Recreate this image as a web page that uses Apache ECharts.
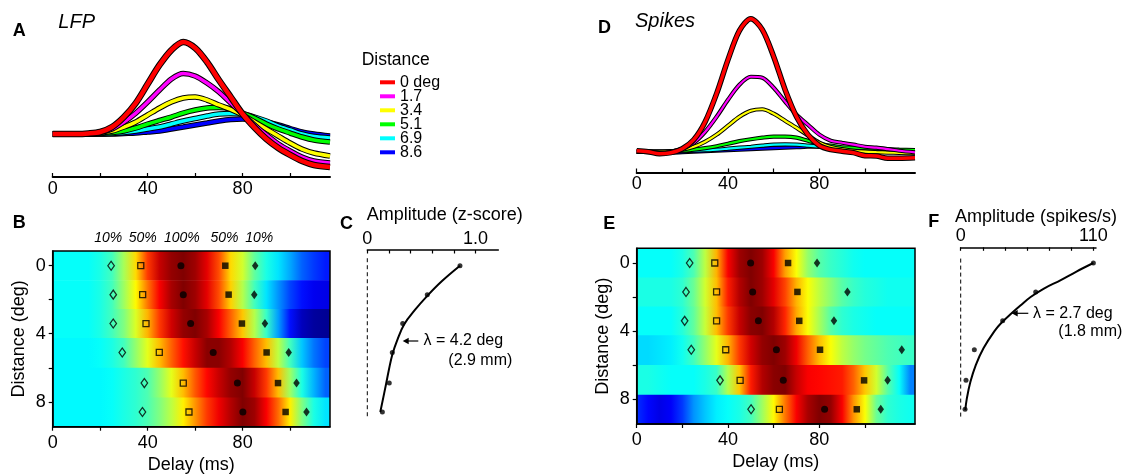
<!DOCTYPE html>
<html><head><meta charset="utf-8">
<script src="https://cdn.jsdelivr.net/npm/echarts@6/dist/echarts.min.js"></script>
<style>html,body{margin:0;padding:0;background:#fff}#c{width:1126px;height:475px}</style>
</head><body><div id="c"></div><script>
const FONT = '"Liberation Sans", Arial, sans-serif';

// ---------- shared ----------
const distances = [0, 1.7, 3.4, 5.1, 6.9, 8.6];
const distLabels = ['0 deg', '1.7', '3.4', '5.1', '6.9', '8.6'];
const curveColors = ['#ff0000', '#ff00ff', '#ffff00', '#00ff00', '#00ffff', '#0000ff'];

// ---------- A: LFP (z-score above baseline) ----------
const tLfp = [0,5,10,15,20,25,30,35,40,45,50,55,60,65,70,75,80,85,90,95,100,105,110,116.8];
const lfp00 = [0,0,0,0.005,0.019,0.065,0.158,0.288,0.465,0.642,0.781,0.856,0.800,0.670,0.502,0.344,0.186,0.060,-0.047,-0.130,-0.195,-0.251,-0.288,-0.307];
const lfp17 = [0,0,0,0,0.014,0.047,0.112,0.195,0.298,0.409,0.512,0.563,0.539,0.474,0.391,0.288,0.186,0.084,-0.009,-0.093,-0.158,-0.214,-0.251,-0.270];
const lfp34 = [0,0,0,0,0.009,0.028,0.065,0.112,0.177,0.242,0.298,0.335,0.344,0.316,0.270,0.228,0.177,0.112,0.047,-0.019,-0.084,-0.140,-0.177,-0.205];
const lfp51 = [0,0,0,0,0.005,0.014,0.028,0.056,0.093,0.126,0.158,0.195,0.223,0.242,0.246,0.233,0.195,0.149,0.093,0.047,0.009,-0.028,-0.056,-0.074];
const lfp69 = [0,0,0,0,0,0.005,0.014,0.028,0.047,0.065,0.093,0.121,0.144,0.167,0.186,0.191,0.186,0.158,0.121,0.074,0.037,0,-0.023,-0.037];
const lfp86 = [0,0,0,0,0,0,0.005,0.009,0.019,0.028,0.047,0.065,0.084,0.102,0.121,0.135,0.140,0.130,0.112,0.084,0.051,0.019,0,-0.019];

// ---------- D: Spikes (spikes/s above baseline) ----------
const tSpk = [0,5,10,15,20,25,30,35,40,45,50,55,60,65,70,75,80,85,90,95,100,105,110,115,121.9];
const spk00 = [0.8,0,-1.7,-0.8,2.5,9.9,24.8,48.0,76.1,100.1,110.0,100.9,78.6,51.3,28.9,14.1,5.0,1.7,0.4,-0.8,-3.3,-3.6,-5.4,-5.4,-5.0];
const spk17 = [0,0,-0.8,0,2.5,7.4,16.5,28.9,43.0,55.4,62.0,61.2,52.9,41.4,30.6,22.3,14.1,9.1,7.4,5.8,4.1,3.3,2.1,0.8,-0.5];
const spk34 = [0,0,0,0.4,1.7,4.1,8.3,14.1,21.5,28.9,33.9,35.1,31.4,25.6,19.8,13.5,7.5,3.8,2.1,0.8,0,-0.4,-0.7,-1.0,-1.3];
const spk51 = [0,0,0,0.4,0.8,1.7,2.9,4.5,6.6,8.7,10.3,11.6,12.4,12.4,11.6,9.1,6.6,5.0,3.7,3.3,2.9,2.5,2.1,1.7,1.4];
const spk69 = [0,0,0,0,0.4,0.8,1.2,1.7,2.5,3.3,4.1,5.0,5.8,6.1,5.8,5.0,4.1,3.3,2.5,2.1,1.7,1.2,1.0,0.8,0.8];
const spk86 = [0,-0.4,-0.8,-0.8,-0.4,0,0.4,0.8,1.2,1.7,2.1,2.5,2.9,3.3,3.7,4.1,4.1,3.3,2.5,1.7,1.2,0.8,0.4,0.4,0.4];

// ---------- B: LFP heat map (jet colour index, one row per distance) ----------
const tHeatLfp = [0,5,10,15,20,25,30,35,40,45,50,55,60,65,70,75,80,85,90,95,100,105,110,115];
const heatLfp = [
  [.38,.38,.38,.38,.40,.44,.54,.66,.82,.93,.98,1.0,.97,.90,.80,.66,.58,.47,.40,.35,.29,.22,.18,.15],
  [.38,.38,.38,.38,.40,.44,.53,.63,.76,.88,.96,1.0,.97,.90,.80,.67,.55,.44,.35,.27,.19,.14,.11,.10],
  [.38,.38,.38,.38,.40,.44,.50,.59,.70,.82,.92,.98,1.0,.96,.88,.78,.68,.55,.43,.28,.14,.06,.03,.02],
  [.37,.37,.37,.37,.38,.40,.44,.52,.60,.69,.78,.86,.93,.99,.99,.95,.88,.78,.69,.56,.44,.32,.24,.19],
  [.37,.37,.37,.37,.37,.38,.40,.42,.45,.52,.60,.69,.79,.87,.93,.98,1.0,.93,.82,.69,.53,.40,.30,.22],
  [.37,.37,.37,.37,.37,.38,.40,.42,.45,.50,.56,.64,.73,.82,.89,.95,1.0,.97,.88,.77,.64,.50,.40,.35]
];
// ---------- E: Spike heat map ----------
const tHeatSpk = [0,5,10,15,20,25,30,35,40,45,50,55,60,65,70,75,80,85,90,95,100,105,110,115,120];
const heatSpk = [
  [.38,.38,.38,.38,.40,.45,.56,.70,.88,.97,1.0,.97,.88,.72,.62,.52,.46,.43,.41,.39,.38,.38,.38,.38,.38],
  [.40,.40,.40,.40,.42,.48,.58,.69,.85,.95,1.0,.97,.90,.81,.70,.62,.56,.51,.46,.43,.41,.40,.39,.39,.39],
  [.38,.38,.38,.38,.41,.47,.57,.69,.82,.93,.99,1.0,.95,.84,.71,.62,.54,.46,.42,.40,.39,.38,.38,.38,.38],
  [.34,.34,.35,.36,.39,.44,.52,.60,.70,.82,.92,.98,1.0,.97,.89,.78,.69,.62,.56,.52,.49,.47,.45,.44,.43],
  [.40,.40,.39,.38,.38,.38,.40,.43,.55,.68,.85,.95,.99,1.0,.93,.88,.87,.86,.85,.78,.68,.58,.46,.38,.25],
  [.17,.13,.10,.12,.18,.27,.32,.36,.38,.40,.44,.53,.63,.76,.88,.96,1.0,.98,.88,.73,.62,.48,.42,.40,.39]
];

// ---------- latency markers (ms), one per distance ----------
const lfpRise10 = [24.6,25.5,25.5,29.3,38.6,37.8];
const lfpRise50 = [37.1,37.9,39.3,44.9,55.0,57.4];
const lfpPeak   = [54.0,55.0,58.1,67.6,77.8,80.1];
const lfpFall50 = [72.7,74.1,79.7,90.1,94.9,98.1];
const lfpFall10 = [85.3,84.9,89.4,99.4,102.7,106.9];
const spkRise10 = [23.2,21.6,21.0,23.9,36.5,50.1];
const spkRise50 = [34.2,35.0,35.0,39.0,45.3,62.5];
const spkPeak   = [49.9,50.8,53.3,61.2,64.2,82.3];
const spkFall50 = [66.3,70.4,71.2,80.3,99.6,96.4];
const spkFall10 = [79.0,92.3,86.4,116.1,109.9,106.9];

// ---------- C / F: amplitude vs distance ----------
const ampLfp = [0.856,0.554,0.327,0.231,0.203,0.139];
const fitLfpDist = [0,0.9,1.77,2.6,3.45,4.4,5.2,6.1,7.0,8.6];
const fitLfpAmp  = [0.856,0.69,0.554,0.44,0.34,0.275,0.232,0.2,0.172,0.12];
const ampSpk = [110,62.2,34.8,11.3,4.4,3.6];
const fitSpkDist = [0,0.5,1,1.5,2,2.5,3,3.5,4,5,6,7,8,8.65];
const fitSpkAmp  = [110,96,83,69,58,49.5,41.5,34,28,19,12.5,8,5,3.8];

// ---------- ticks ----------
const timeTicks = [0,20,40,60,80,100];
const timeLabels = [0,40,80];
const distTicks = [0,2,4,6,8];
const distTickLabels = [0,4,8];
const zTicks = [0,0.2,0.4,0.6,0.8,1.0];
const zLabels = [0,1.0];
const spkTicks = [0,18.333,36.667,55,73.333,91.667,110];
const spkLabels = [0,110];

const HALF = 0.865;
const DMIN = distances[0] - HALF, DMAX = distances[distances.length - 1] + HALF;

function jet(v) {
  v = Math.max(0, Math.min(1, v));
  const c = x => Math.round(255 * Math.max(0, Math.min(1, x)));
  return 'rgb(' + c(Math.min(4*v-1.5, -4*v+4.5)) + ',' + c(Math.min(4*v-0.5, -4*v+3.5)) + ',' + c(Math.min(4*v+0.5, -4*v+2.5)) + ')';
}

function lbl(extra) { return Object.assign({color: '#000', fontSize: 18, fontFamily: FONT}, extra); }
function pickFmt(list, digits) {
  return function (v) {
    for (const w of list) if (Math.abs(v - w) < 1e-6) return digits ? (w === 0 ? '0' : w.toFixed(digits)) : String(w);
    return '';
  };
}

function timeAxis(grid, max, heat) {
  const ax = {
    gridIndex: grid, type: 'value', min: 0, max: max, z: 10,
    axisLine: {onZero: false, lineStyle: {color: '#000', width: heat ? 1.5 : 2}},
    axisTick: {inside: !heat, length: 4, customValues: timeTicks, lineStyle: {color: '#000', width: 1.2}},
    axisLabel: lbl({customValues: timeLabels, margin: heat ? 7 : 3, formatter: pickFmt(timeLabels, 0)}),
    splitLine: {show: false}
  };
  if (heat) {
    ax.name = 'Delay (ms)'; ax.nameLocation = 'middle'; ax.nameGap = 29;
    ax.nameTextStyle = lbl({});
  }
  return ax;
}
function distAxis(grid, visible) {
  if (!visible) return {gridIndex: grid, type: 'value', inverse: true, min: DMIN, max: DMAX, show: false};
  return {
    gridIndex: grid, type: 'value', inverse: true, min: DMIN, max: DMAX, z: 10,
    axisLine: {onZero: false, lineStyle: {color: '#000', width: 1.5}},
    axisTick: {length: 4, customValues: distTicks, lineStyle: {color: '#000', width: 1.2}},
    axisLabel: lbl({customValues: distTickLabels, margin: 7, formatter: pickFmt(distTickLabels, 0)}),
    splitLine: {show: false},
    name: 'Distance (deg)', nameLocation: 'middle', nameGap: 25, nameTextStyle: lbl({})
  };
}
function ampAxis(grid, max, ticks, labels, fmt) {
  return {
    gridIndex: grid, type: 'value', position: 'top', min: 0, max: max, offset: 1,
    axisLine: {onZero: false, lineStyle: {color: '#000', width: 1.5}},
    axisTick: {inside: true, length: 3.5, customValues: ticks, lineStyle: {color: '#000', width: 1.2}},
    axisLabel: lbl({customValues: labels, margin: 2, formatter: fmt}),
    splitLine: {show: false}
  };
}

function curvePair(ax, times, vals, color, wb, wc, name) {
  const data = times.map((t, i) => [t, vals[i]]);
  const base = {type: 'line', xAxisIndex: ax, yAxisIndex: ax, data: data, smooth: 0.3, showSymbol: false, silent: true, animation: false};
  return [
    Object.assign({}, base, {name: name + ' outline' + ax, lineStyle: {color: '#000', width: wb}, itemStyle: {color: '#000'}}),
    Object.assign({}, base, {name: name, lineStyle: {color: color, width: wc}, itemStyle: {color: color}})
  ];
}

function heatSeries(ax, rows, times, xmax) {
  return {
    type: 'custom', xAxisIndex: ax, yAxisIndex: ax, z: 1, silent: true,
    data: distances.map((d, i) => [xmax / 2, d, i]),
    renderItem: function (params, api) {
      const i = api.value(2);
      const d = distances[i];
      const top = i === 0 ? d - HALF : (distances[i - 1] + d) / 2;
      const bot = i === distances.length - 1 ? d + HALF : (distances[i + 1] + d) / 2;
      const p0 = api.coord([0, top]);
      const p1 = api.coord([xmax, bot]);
      const row = rows[i];
      const stops = times.map((t, k) => ({offset: t / xmax, color: jet(row[k])}));
      stops.push({offset: 1, color: jet(row[row.length - 1])});
      return {
        type: 'rect',
        shape: {x: p0[0], y: p0[1], width: p1[0] - p0[0], height: p1[1] - p0[1] + 0.6},
        style: {fill: new echarts.graphic.LinearGradient(0, 0, 1, 0, stops)}
      };
    }
  };
}

function markers(ax, times, sym, size, filled) {
  return {
    type: 'scatter', xAxisIndex: ax, yAxisIndex: ax, z: 5, silent: true, symbol: sym, symbolSize: size,
    data: times.map((t, i) => [t, distances[i]]),
    itemStyle: filled ? {color: '#000'} : {color: 'rgba(0,0,0,0)', borderColor: '#000', borderWidth: 1.3}
  };
}
function markerSet(ax, r10, r50, pk, f50, f10) {
  return [
    markers(ax, r10, 'diamond', [6.5, 9], false),
    markers(ax, r50, 'rect', 6, false),
    markers(ax, pk, 'circle', 7, true),
    markers(ax, f50, 'rect', 6.5, true),
    markers(ax, f10, 'diamond', [6.5, 9], true)
  ];
}

const lfpCurves = [lfp00, lfp17, lfp34, lfp51, lfp69, lfp86];
const spkCurves = [spk00, spk17, spk34, spk51, spk69, spk86];

let series = [];
for (let i = 5; i >= 0; i--) {
  series = series.concat(curvePair(0, tLfp, lfpCurves[i], curveColors[i], i === 0 ? 6.5 : 5.5, i === 0 ? 4.5 : 3.5, distLabels[i]));
}
for (let i = 5; i >= 0; i--) {
  series = series.concat(curvePair(3, tSpk, spkCurves[i], curveColors[i], i === 0 ? 5.5 : 4.2, i === 0 ? 3.5 : 2.2, distLabels[i]));
}
series.push(heatSeries(1, heatLfp, tHeatLfp, 116.8));
series.push(heatSeries(4, heatSpk, tHeatSpk, 121.9));
series = series.concat(markerSet(1, lfpRise10, lfpRise50, lfpPeak, lfpFall50, lfpFall10));
series = series.concat(markerSet(4, spkRise10, spkRise50, spkPeak, spkFall50, spkFall10));

function ampPanel(ax, amps, fitD, fitA, dashTop, dashBot) {
  return [
    {type: 'line', xAxisIndex: ax, yAxisIndex: ax, silent: true, showSymbol: false,
     data: [[0, dashTop], [0, dashBot]], lineStyle: {color: '#000', width: 1, type: [4, 3]}},
    {type: 'line', xAxisIndex: ax, yAxisIndex: ax, silent: true, showSymbol: false, smooth: 0.4,
     data: fitD.map((d, i) => [fitA[i], d]), lineStyle: {color: '#000', width: 2}},
    {type: 'scatter', xAxisIndex: ax, yAxisIndex: ax, silent: true, symbol: 'circle', symbolSize: 5,
     data: distances.map((d, i) => [amps[i], d]), itemStyle: {color: '#000'}}
  ];
}
series = series.concat(ampPanel(2, ampLfp, fitLfpDist, fitLfpAmp, -0.44, 8.98));
series = series.concat(ampPanel(5, ampSpk, fitSpkDist, fitSpkAmp, -0.26, 9.06));

const BOLD = 'bold 18px ' + FONT;
const IT20 = 'italic 20px ' + FONT;
const IT14 = 'italic 14px ' + FONT;
const N18 = '18px ' + FONT;
const N16 = '16px ' + FONT;
function txt(x, y, text, font, align) {
  return {type: 'text', x: x, y: y, silent: true, z: 20,
          style: {text: text, font: font, fill: '#000', align: align || 'left', verticalAlign: 'middle'}};
}
function arrow(x1, x2, y) {
  return [
    {type: 'line', silent: true, z: 20, shape: {x1: x1, y1: y, x2: x2 + 4, y2: y}, style: {stroke: '#000', lineWidth: 1.2}},
    {type: 'polygon', silent: true, z: 20, shape: {points: [[x2, y], [x2 + 6, y - 3.2], [x2 + 6, y + 3.2]]}, style: {fill: '#000'}}
  ];
}

const graphics = [
  txt(12.7, 31.2, 'A', BOLD), txt(58.3, 22, 'LFP', IT20),
  txt(361.7, 60, 'Distance', '17.5px ' + FONT),
  txt(12.7, 223, 'B', BOLD),
  txt(108.3, 238, '10%', IT14, 'center'), txt(142.7, 238, '50%', IT14, 'center'),
  txt(181.8, 238, '100%', IT14, 'center'), txt(224.5, 238, '50%', IT14, 'center'),
  txt(259.3, 238, '10%', IT14, 'center'),
  txt(340, 224, 'C', BOLD), txt(366.7, 215, 'Amplitude (z-score)', N18),
  txt(423.5, 341, 'λ = 4.2 deg', N16), txt(448.3, 361, '(2.9 mm)', N16),
  txt(598, 28.3, 'D', BOLD), txt(635, 21, 'Spikes', IT20),
  txt(603.3, 224.5, 'E', BOLD), txt(928.3, 222.5, 'F', BOLD),
  txt(955, 216.7, 'Amplitude (spikes/s)', N18),
  txt(1033, 313.3, 'λ = 2.7 deg', N16), txt(1058.3, 332, '(1.8 mm)', N16)
].concat(arrow(418.3, 402.7, 341)).concat(arrow(1028.3, 1011.7, 313.3));

const chart = echarts.init(document.getElementById('c'), null, {renderer: 'canvas'});
chart.setOption({
  animation: false,
  backgroundColor: '#fff',
  textStyle: {fontFamily: FONT},
  grid: [
    {left: 52.7, top: 26.5, width: 277.3, height: 150.5, containLabel: false},
    {left: 52.7, top: 251, width: 277.3, height: 175.7, containLabel: false, show: true, borderColor: '#000', borderWidth: 1.5, z: 10, backgroundColor: 'transparent'},
    {left: 367.3, top: 251, width: 131, height: 175.7, containLabel: false},
    {left: 636.7, top: 6.6, width: 278.3, height: 165.9, containLabel: false},
    {left: 636.7, top: 248.3, width: 278.3, height: 175.7, containLabel: false, show: true, borderColor: '#000', borderWidth: 1.5, z: 10, backgroundColor: 'transparent'},
    {left: 960.7, top: 248.3, width: 135.3, height: 175.7, containLabel: false}
  ],
  xAxis: [
    timeAxis(0, 116.8, false),
    timeAxis(1, 116.8, true),
    ampAxis(2, 1.21, zTicks, zLabels, pickFmt(zLabels, 1)),
    timeAxis(3, 121.9, false),
    timeAxis(4, 121.9, true),
    ampAxis(5, 112.2, spkTicks, spkLabels, pickFmt(spkLabels, 0))
  ],
  yAxis: [
    {gridIndex: 0, type: 'value', min: -0.4, max: 1.0, show: false},
    distAxis(1, true),
    distAxis(2, false),
    {gridIndex: 3, type: 'value', min: -17.2, max: 120, show: false},
    distAxis(4, true),
    distAxis(5, false)
  ],
  legend: {
    data: distLabels, selectedMode: false, orient: 'vertical', left: 380, top: 74.3, padding: 0,
    itemWidth: 15, itemHeight: 4, itemGap: -2, icon: 'rect',
    textStyle: {fontSize: 16, lineHeight: 14, color: '#000', fontFamily: FONT}
  },
  graphic: graphics,
  series: series
});
</script></body></html>
